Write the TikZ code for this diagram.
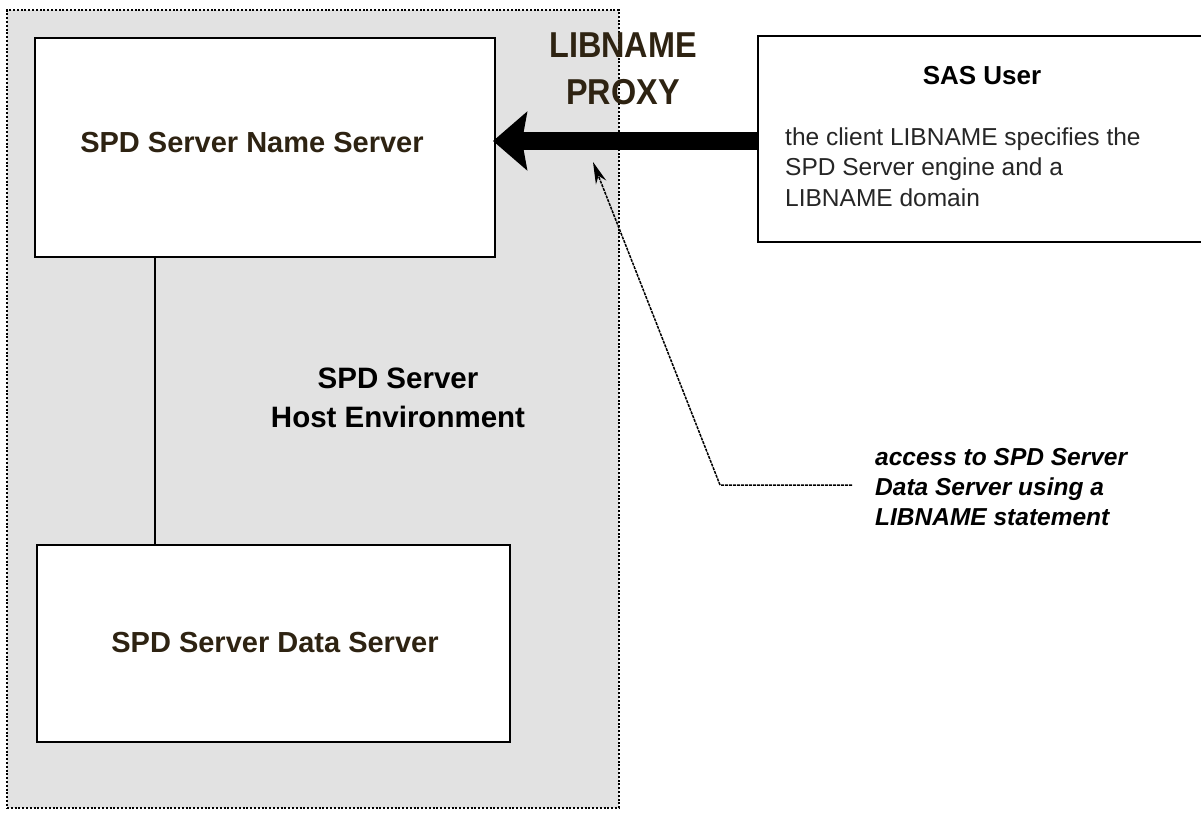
\documentclass[tikz,border=0pt]{standalone}
\usepackage{fontspec}
\setmainfont{Liberation Sans}
\usetikzlibrary{arrows.meta}
\definecolor{envfill}{HTML}{E2E2E2}
\definecolor{darkbrown}{HTML}{2E2312}
\begin{document}
\begin{tikzpicture}[x=1pt,y=-1pt,
  box/.style={draw=black, line width=2.8pt, fill=white, rectangle, inner sep=0pt, outer sep=0pt},
  envbox/.style={draw=black, line width=2pt, dash pattern=on 2pt off 1.8pt, fill=envfill, rectangle, inner sep=0pt, outer sep=0pt},
  srvtext/.style={inner sep=0pt, font=\bfseries\fontsize{29}{34}\selectfont, text=darkbrown},
  hosttext/.style={inner sep=0pt, align=center, font=\bfseries\fontsize{29.5}{39}\selectfont, text=black},
  proxytext/.style={inner sep=0pt, align=center, font=\bfseries\fontsize{36}{47}\selectfont, text=darkbrown, xscale=0.9, transform shape},
  sastitle/.style={inner sep=0pt, font=\bfseries\fontsize{26}{30}\selectfont},
  sasbody/.style={inner sep=0pt, align=left, font=\fontsize{24.5}{30.5}\selectfont, text=black!85},
  notetext/.style={inner sep=0pt, align=left, font=\bfseries\itshape\fontsize{24.5}{30}\selectfont},
  bigarrow/.style={line width=18pt, -{Stealth[length=34pt, width=58pt, inset=5pt]}},
  notearrow/.style={line width=1.5pt, dash pattern=on 3pt off 1pt, -{Stealth[length=22pt, width=11pt]}},
  link/.style={line width=2.2pt}
]
\useasboundingbox (0,0) rectangle (1201,812);
\fill[white] (0,0) rectangle (1201,812);

% host environment region
\node[envbox, minimum width=612pt, minimum height=798pt] (env) at (313,409) {};

% servers
\node[box, minimum width=460pt, minimum height=219pt] (name) at (265,147.5) {};
\node[box, minimum width=473pt, minimum height=197pt] (data) at (273.5,643.5) {};
\node[srvtext] (nametext) at (252,143) {SPD Server Name Server};
\node[srvtext] (datatext) at (275,643) {SPD Server Data Server};

\coordinate (vx) at (155,0);
\draw[link] (name.south -| vx) -- (data.north -| vx);

\node[hosttext] (host) at (398,398) {SPD Server\\Host Environment};

% SAS user box
\node[box, minimum width=457pt, minimum height=206pt] (sas) at (986.5,139) {};
\node[sastitle] (sastitle) at (982,76) {SAS User};
\node[sasbody, anchor=west] (sasbody) at (785,167) {the client LIBNAME specifies the\\SPD Server engine and a\\LIBNAME domain};

% LIBNAME PROXY label and big arrow
\node[proxytext] (proxy) at (623,69) {LIBNAME\\PROXY};
\coordinate (atip) at (493,141);
\draw[bigarrow] (sas.west |- atip) -- (atip);

% annotation
\node[notetext, anchor=west] (note) at (875,487) {access to SPD Server\\Data Server using a\\LIBNAME statement};
\coordinate (hstart) at (852,485);
\coordinate (bend) at (720,485);
\coordinate (ptip) at (593,162);
\draw[notearrow] (hstart) -- (bend) -- (ptip);
\end{tikzpicture}
\end{document}
